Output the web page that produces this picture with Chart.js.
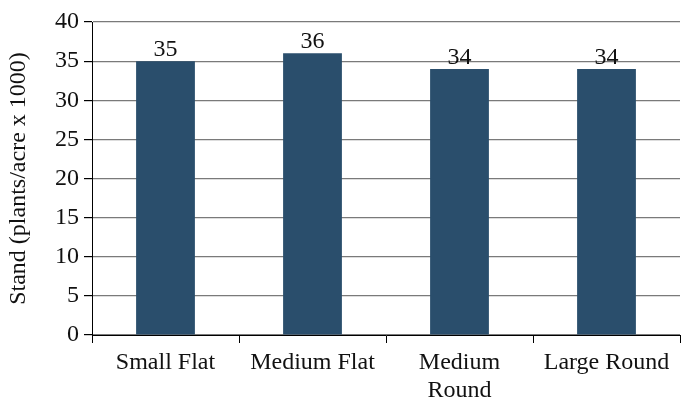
<!DOCTYPE html>
<html>
<head>
<meta charset="utf-8">
<script src="https://cdn.jsdelivr.net/npm/chart.js@4/dist/chart.umd.min.js"></script>
<style>
  html, body { margin: 0; padding: 0; background: #ffffff; }
  #wrap { width: 681px; height: 400px; }
</style>
</head>
<body>
<div id="wrap"><canvas id="c" width="681" height="400"></canvas></div>
<script>
// Potato seed size categories and their stand counts
const categories = ['Small Flat', 'Medium Flat', ['Medium', 'Round'], 'Large Round'];
const standValues = [35, 36, 34, 34];
const yTicks = [0, 5, 10, 15, 20, 25, 30, 35, 40];

const FONT = "'Liberation Serif', 'DejaVu Serif', serif";
const FONT_SIZE = 24;

// Writes each bar's value just above it
const valueLabels = {
  id: 'valueLabels',
  afterDatasetsDraw(chart) {
    const ctx = chart.ctx;
    const meta = chart.getDatasetMeta(0);
    ctx.save();
    ctx.font = FONT_SIZE + 'px ' + FONT;
    ctx.fillStyle = '#111111';
    ctx.textAlign = 'center';
    ctx.textBaseline = 'alphabetic';
    meta.data.forEach((bar, i) => {
      ctx.fillText(String(standValues[i]), bar.x, bar.y - 5);
    });
    ctx.restore();
  }
};

new Chart(document.getElementById('c'), {
  type: 'bar',
  data: {
    labels: categories,
    datasets: [{
      data: standValues,
      backgroundColor: '#2a4e6c',
      borderWidth: 0,
      categoryPercentage: 1.0,
      barPercentage: 0.4
    }]
  },
  options: {
    responsive: false,
    animation: false,
    devicePixelRatio: 1,
    layout: { padding: { top: 22, right: 1, left: 0, bottom: 0 } },
    plugins: {
      legend: { display: false },
      tooltip: { enabled: false }
    },
    scales: {
      x: {
        offset: true,
        grid: {
          offset: true,
          drawOnChartArea: false,
          drawTicks: true,
          tickLength: 8,
          tickColor: '#000000',
          lineWidth: 1
        },
        border: { display: true, color: '#000000', width: 1 },
        ticks: {
          color: '#111111',
          font: { family: FONT, size: FONT_SIZE, lineHeight: 1.15 },
          padding: 6,
          maxRotation: 0,
          autoSkip: false
        },
        afterFit(scale) { scale.height = 65; }
      },
      y: {
        min: 0,
        max: 40,
        afterBuildTicks(scale) { scale.ticks = yTicks.map(v => ({ value: v })); },
        grid: {
          color: '#7a7a7a',
          tickColor: '#000000',
          tickLength: 8,
          lineWidth: 1.2
        },
        border: { display: true, color: '#000000', width: 1 },
        ticks: {
          color: '#111111',
          font: { family: FONT, size: FONT_SIZE },
          padding: 5
        },
        title: {
          display: true,
          text: 'Stand (plants/acre x 1000)',
          color: '#111111',
          font: { family: FONT, size: FONT_SIZE },
          padding: { top: 4, bottom: 4 }
        },
        afterFit(scale) { scale.width = 92; }
      }
    }
  },
  plugins: [valueLabels]
});
</script>
</body>
</html>
